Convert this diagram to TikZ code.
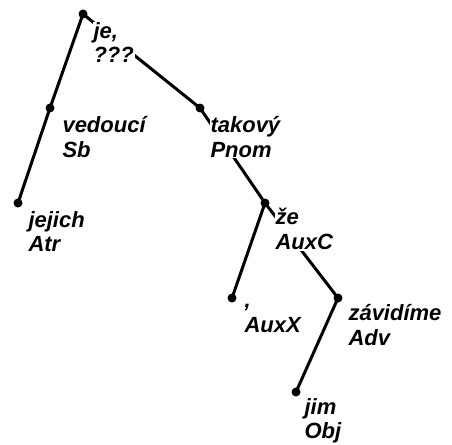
\documentclass[tikz,border=0pt]{standalone}
\usepackage{fontspec}
\setmainfont{Liberation Sans}
\usetikzlibrary{positioning}

\begin{document}
\begin{tikzpicture}[
        x=1pt, y=-1pt,
        word/.style={
            circle,
            fill=black,
            inner sep=0pt,
            minimum size=9pt
        },
        tag/.style={
            font=\bfseries\itshape\fontsize{22}{24.5}\selectfont,
            align=left,
            fill=white,
            inner sep=1pt
        },
        dep/.style={line width=3pt}
    ]
        \useasboundingbox (0,0) rectangle (452,444);

        \node[word] (je) at (83,14) {};
        \node[word] (vedouci) at (50,108) {};
        \node[word] (jejich) at (18,203) {};
        \node[word] (takovy) at (200,108) {};
        \node[word] (ze) at (265,203) {};
        \node[word] (carka) at (232,298) {};
        \node[word] (zavidime) at (338,298) {};
        \node[word] (jim) at (296,392) {};

        \draw[dep] (je.center) -- (vedouci.center);
        \draw[dep] (vedouci.center) -- (jejich.center);
        \draw[dep] (je.center) -- (takovy.center);
        \draw[dep] (takovy.center) -- (ze.center);
        \draw[dep] (ze.center) -- (carka.center);
        \draw[dep] (ze.center) -- (zavidime.center);
        \draw[dep] (zavidime.center) -- (jim.center);

        \node[tag, below right=4pt and 6pt of je] (je-tag) {je,\\???};
        \node[tag, below right=4pt and 8pt of vedouci] (vedouci-tag) {vedoucí\\Sb};
        \node[tag, below right=4pt and 6pt of jejich] (jejich-tag) {jejich\\Atr};
        \node[tag, below right=4pt and 6pt of takovy] (takovy-tag) {takový\\Pnom};
        \node[tag, below right=1pt and 6pt of ze] (ze-tag) {že\\AuxC};
        \node[tag, below right=2pt and 8pt of carka] (carka-tag) {,\\AuxX};
        \node[tag, below right=2pt and 6pt of zavidime] (zavidime-tag) {závidíme\\Adv};
        \node[tag, below right=2pt and 4pt of jim] (jim-tag) {jim\\Obj};
    \end{tikzpicture}
\end{document}
